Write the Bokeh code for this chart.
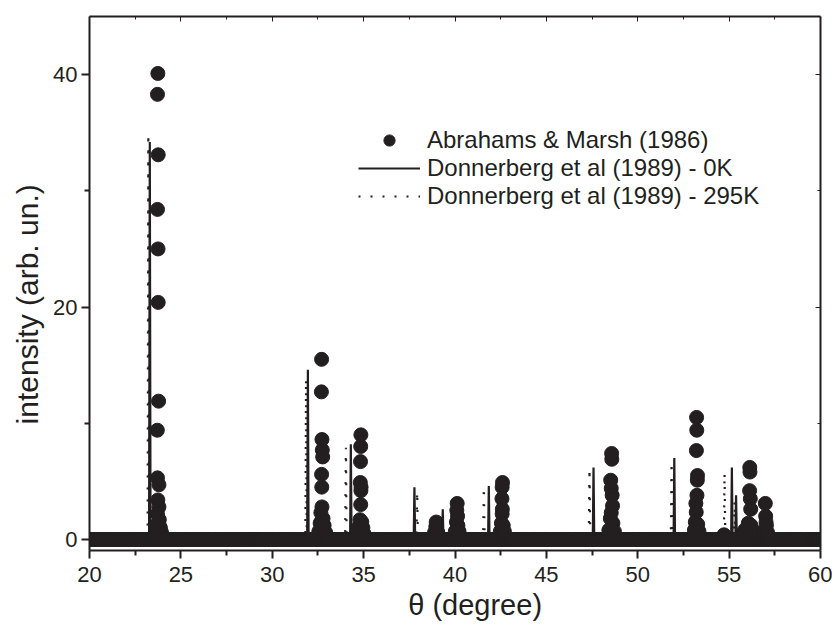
import numpy as np
from bokeh.plotting import figure
from bokeh.models import Range1d, LinearAxis, Legend, LegendItem, FixedTicker
from bokeh.embed import file_html
from bokeh.resources import INLINE

# ---------------- data ----------------
# Abrahams & Marsh (1986): points above the baseline
am_theta = [23.74, 23.72, 23.76, 23.72, 23.75, 23.76, 23.78, 23.71, 23.72, 23.80, 23.74, 23.80, 23.72, 23.82,
            23.66, 23.88, 23.60, 23.94, 23.74, 23.68, 23.84,
            32.70, 32.69, 32.72, 32.74, 32.76, 32.70, 32.71, 32.72, 32.66, 32.78, 32.62, 32.84, 32.55, 32.92, 32.72,
            34.85, 34.84, 34.83, 34.82, 34.86, 34.85, 34.84, 34.80, 34.90, 34.74, 34.96, 34.68, 35.02,
            38.97, 38.95, 38.99, 38.88, 39.06,
            40.12, 40.10, 40.14, 40.08, 40.16, 40.02, 40.22,
            42.60, 42.58, 42.57, 42.59, 42.58, 42.54, 42.64, 42.48, 42.70,
            48.57, 48.58, 48.52, 48.55, 48.60, 48.62, 48.55, 48.50, 48.64, 48.42, 48.72,
            53.22, 53.23, 53.21, 53.27, 53.26, 53.24, 53.18, 53.20, 53.15, 53.28, 53.10, 53.35,
            54.72, 55.75, 55.85,
            56.13, 56.14, 56.12, 56.16, 56.18, 56.05, 56.20, 55.98, 56.28, 55.90,
            56.98, 57.00, 57.02, 57.04, 56.92, 57.10]
am_int = [40.1, 38.3, 33.1, 28.4, 25.0, 20.4, 11.9, 9.4, 5.3, 4.7, 3.4, 2.8, 2.2, 1.7,
          1.2, 1.0, 0.6, 0.6, 1.4, 0.9, 1.1,
          15.5, 12.7, 8.6, 7.7, 7.1, 5.6, 4.5, 2.8, 2.3, 1.8, 1.4, 1.2, 0.7, 0.6, 1.6,
          9.0, 8.0, 6.7, 4.9, 4.5, 4.2, 3.0, 1.7, 1.5, 1.1, 1.0, 0.6, 0.5,
          1.5, 1.1, 0.8, 0.6, 0.6,
          3.1, 2.5, 2.0, 1.5, 1.2, 0.7, 0.7,
          4.9, 4.5, 3.5, 2.6, 2.2, 1.4, 1.2, 0.7, 0.7,
          7.4, 6.9, 5.1, 4.4, 3.8, 2.9, 2.3, 1.8, 1.4, 0.8, 0.7,
          10.5, 9.4, 7.65, 5.5, 5.1, 3.8, 3.1, 2.35, 1.5, 1.3, 0.8, 0.7,
          0.4, 0.5, 0.8,
          6.2, 5.8, 4.2, 3.5, 2.6, 1.4, 1.2, 0.9, 0.8, 0.6,
          3.1, 2.0, 1.5, 1.2, 0.7, 0.6]
# measured scan: zero-intensity baseline points
scan_start, scan_end, scan_step = 20.0, 60.0, 0.1

# Donnerberg et al (1989) - 0K : peak positions and heights
d0_theta = [23.30, 31.95, 34.30, 37.78, 39.33, 41.85, 47.58, 52.00, 55.15, 55.38]
d0_int = [34.2, 14.6, 8.2, 4.5, 2.6, 4.6, 6.2, 7.0, 6.2, 3.8]
# Donnerberg et al (1989) - 295K
d295_theta = [23.22, 31.85, 34.03, 37.93, 39.22, 41.58, 47.36, 51.85, 54.75, 55.30]
d295_int = [34.9, 13.8, 7.9, 4.1, 2.3, 4.5, 6.1, 6.65, 5.7, 3.3]
peak_half_width = 0.04

x_ticks = [20, 25, 30, 35, 40, 45, 50, 55, 60]
x_minor = [22.5, 27.5, 32.5, 37.5, 42.5, 47.5, 52.5, 57.5]
y_ticks = [0, 20, 40]
y_minor = [10, 30]

labels = ["Abrahams & Marsh (1986)", "Donnerberg et al (1989) - 0K", "Donnerberg et al (1989) - 295K"]
x_title = "θ (degree)"
y_title = "intensity (arb. un.)"


def profile(cs, hs, hw):
    xs, ys = [scan_start], [0.0]
    for c, h in sorted(zip(cs, hs)):
        xs += [c - hw, c, c + hw]
        ys += [0.0, h, 0.0]
    xs.append(scan_end)
    ys.append(0.0)
    return xs, ys


base_x = np.arange(scan_start, scan_end + 1e-9, scan_step)
dots_x = list(base_x) + am_theta
dots_y = [0.0] * len(base_x) + am_int

INK = "#231f20"
FONT = "Liberation Sans"
NB = "\u00a0"

p = figure(width=832, height=632, output_backend="svg", toolbar_location=None,
           x_range=Range1d(20, 60), y_range=Range1d(-0.95, 45),
           min_border_left=89, min_border_right=12, min_border_top=16, min_border_bottom=82)
p.background_fill_color = "white"
p.border_fill_color = "white"
p.outline_line_color = None
p.grid.visible = False

l0x, l0y = profile(d0_theta, d0_int, peak_half_width)
l2x, l2y = profile(d295_theta, d295_int, peak_half_width)
r2 = p.line(l2x, l2y, line_color=INK, line_width=2.2, line_dash="2 10")
r0 = p.line(l0x, l0y, line_color=INK, line_width=2.2)
rd = p.scatter(dots_x, dots_y, marker="circle", size=14, fill_color=INK, line_color=INK)

for ax in (p.xaxis[0], p.yaxis[0]):
    ax.axis_line_width = 2
    ax.axis_line_color = INK
    ax.major_tick_line_color = INK
    ax.minor_tick_line_color = INK
    ax.major_tick_line_width = 2
    ax.minor_tick_line_width = 2
    ax.major_tick_in = 0
    ax.major_tick_out = 8
    ax.minor_tick_in = 0
    ax.minor_tick_out = 5
    ax.major_label_text_font = FONT
    ax.major_label_text_font_size = "22px"
    ax.major_label_text_color = INK
    ax.axis_label_text_font = FONT
    ax.axis_label_text_font_style = "normal"
    ax.axis_label_text_color = INK

p.xaxis[0].axis_label_text_font_size = "29px"
p.yaxis[0].axis_label_text_font_size = "30px"
p.xaxis[0].ticker = FixedTicker(ticks=x_ticks, minor_ticks=x_minor)
p.yaxis[0].ticker = FixedTicker(ticks=y_ticks, minor_ticks=y_minor)
p.xaxis[0].axis_label = NB * 5 + x_title
p.yaxis[0].axis_label = y_title + NB * 5
p.xaxis[0].major_label_standoff = 8
p.yaxis[0].major_label_standoff = 4
p.xaxis[0].axis_label_standoff = 4
p.yaxis[0].axis_label_standoff = 6

for loc, tk in (("above", FixedTicker(ticks=x_ticks, minor_ticks=x_minor)),
                ("right", FixedTicker(ticks=y_ticks, minor_ticks=y_minor))):
    ax = LinearAxis(ticker=tk)
    ax.axis_line_width = 2
    ax.axis_line_color = INK
    ax.major_tick_line_color = INK
    ax.minor_tick_line_color = INK
    ax.major_tick_in = 5
    ax.major_tick_out = 0
    ax.minor_tick_in = 3
    ax.minor_tick_out = 0
    ax.major_label_text_font_size = "0px"
    ax.major_label_text_alpha = 0
    ax.major_label_standoff = 0
    p.add_layout(ax, loc)

legend = Legend(items=[LegendItem(label=labels[0], renderers=[rd]),
                       LegendItem(label=labels[1], renderers=[r0]),
                       LegendItem(label=labels[2], renderers=[r2])],
                location=(269, 340))
legend.padding = 0
legend.margin = 0
legend.spacing = 0
legend.glyph_width = 62
legend.glyph_height = 28
legend.label_height = 28
legend.label_standoff = 7
legend.label_text_font = FONT
legend.label_text_font_size = "24px"
legend.label_text_color = INK
legend.border_line_alpha = 0
legend.background_fill_alpha = 0
p.add_layout(legend, "center")

open("out.html", "w").write(file_html(p, INLINE))
